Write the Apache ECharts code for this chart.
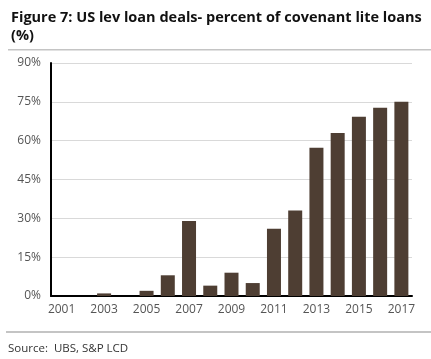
<!DOCTYPE html>
<html><head><meta charset="utf-8">
<script src="https://cdn.jsdelivr.net/npm/echarts@6/dist/echarts.min.js"></script>
<style>html,body{margin:0;padding:0;background:#fff}#c{width:431px;height:359px}</style>
</head><body><div id="c"></div>
<script>
const years = ['2001','2002','2003','2004','2005','2006','2007','2008','2009','2010','2011','2012','2013','2014','2015','2016','2017'];
const covLitePct = [0,0,1,0,2,8,29,4,9,5,26,33,57.3,63,69.2,72.7,75];
const yTicks = [0,15,30,45,60,75,90];
const titleText = 'Figure 7: US lev loan deals- percent of covenant lite loans\n(%)';
const sourceText = 'Source:  UBS, S&P LCD';

const chart = echarts.init(document.getElementById('c'), null, {renderer:'canvas'});
chart.setOption({
  animation:false,
  backgroundColor:'#fff',
  title:{text:titleText,left:6,top:4,textStyle:{fontFamily:'Open Sans',fontWeight:'bold',fontSize:14.5,color:'#111',lineHeight:18}},
  graphic:[
    {type:'rect',shape:{x:8,y:49,width:423,height:1.5},style:{fill:'#c4c4c4',stroke:null},z:100},
    {type:'rect',shape:{x:6,y:331,width:425,height:2},style:{fill:'#c4c4c4',stroke:null},z:100},
    {type:'text',left:8,top:343,style:{text:sourceText,font:'11.5px "Open Sans"',fill:'#333'},z:100}
  ],
  grid:{left:51,right:19,top:63,bottom:63,containLabel:false},
  xAxis:{type:'category',data:years,
    axisLine:{lineStyle:{color:'#000',width:2}},
    axisTick:{show:false},
    axisLabel:{interval:1,color:'#555',fontFamily:'Open Sans',fontSize:12,margin:8}},
  yAxis:{type:'value',min:0,max:90,interval:15,
    axisLine:{show:true,lineStyle:{color:'#000',width:2}},
    axisTick:{show:false},
    splitLine:{lineStyle:{color:'#d9d9d9',width:1}},
    axisLabel:{color:'#555',fontFamily:'Open Sans',fontSize:12,margin:10,
      formatter:v=>yTicks.includes(v)?v+'%':''}},
  series:[{type:'bar',data:covLitePct,barWidth:14,itemStyle:{color:'#4e3e33'}}]
});
</script></body></html>
